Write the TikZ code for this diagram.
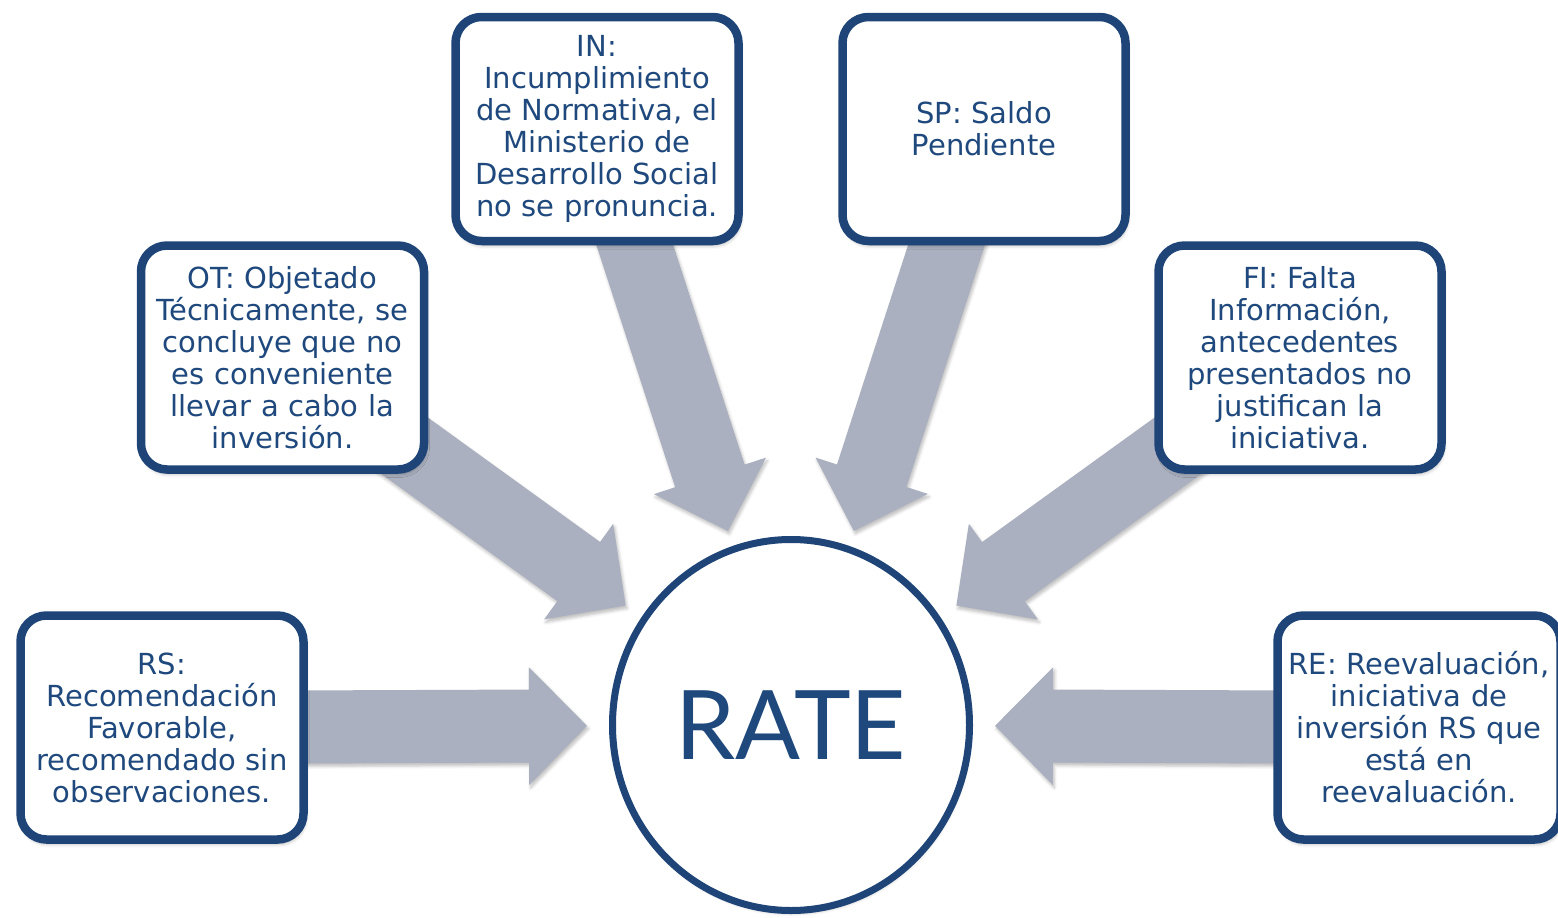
\documentclass[tikz,border=0pt]{standalone}
\usepackage{fontspec}
\setmainfont{DejaVu Sans}
\newfontfamily\ratefont{Lato}
\usetikzlibrary{calc,shapes.geometric,backgrounds,shadows.blur}
\definecolor{navy}{RGB}{31,69,120}
\definecolor{txtblue}{RGB}{31,73,125}
\definecolor{arrowgray}{RGB}{170,176,191}
\tikzset{
  infobox/.style={draw=navy, line width=8.5pt, fill=white, rounded corners=26pt,
    minimum width=283pt, minimum height=224pt, inner sep=0pt, text width=276pt,
    align=center, text=txtblue, font=\fontsize{29}{32}\selectfont,
    blur shadow={shadow xshift=1.5pt, shadow yshift=-4pt, shadow blur radius=4pt, shadow opacity=35}},
  ratenode/.style={ellipse, draw=navy, line width=7pt, fill=white,
    minimum width=357pt, minimum height=371pt, inner sep=0pt, text=txtblue,
    font=\ratefont\fontsize{96}{96}\selectfont,
    blur shadow={shadow xshift=1pt, shadow yshift=-3pt, shadow blur radius=3pt, shadow opacity=25}},
  bigarrow/.style={fill=arrowgray,
    blur shadow={shadow xshift=1.5pt, shadow yshift=-3pt, shadow blur radius=3pt, shadow opacity=25}}
}
\newcommand\blockarrow[2]{%
  \path ($(#2)!58pt!(#1)$) coordinate (bh);
  \fill[bigarrow] ($(#1)!36.5pt!90:(#2)$) -- ($(bh)!36.5pt!-90:(#1)$) -- ($(bh)!59pt!-90:(#1)$)
    -- (#2) -- ($(bh)!59pt!90:(#1)$) -- ($(bh)!36.5pt!90:(#1)$) -- ($(#1)!36.5pt!-90:(#2)$) -- cycle;
}
\begin{document}
\begin{tikzpicture}[x=1pt,y=-1pt]
\useasboundingbox (0,0) rectangle (1558,918);
\node[ratenode] (rate) at (791,725) {RATE};
\node[infobox] (rs) at (162,727.5) {RS:\\Recomendación\\Favorable,\\recomendado sin\\observaciones.};
\node[infobox] (ot) at (282.5,357.5) {OT: Objetado\\Técnicamente, se\\concluye que no\\es conveniente\\llevar a cabo la\\inversión.};
\node[infobox] (in) at (597,129) {IN:\\Incumplimiento\\de Normativa, el\\Ministerio de\\Desarrollo Social\\no se pronuncia.};
\node[infobox] (sp) at (984,129) {SP: Saldo\\Pendiente};
\node[infobox] (fi) at (1300,357.5) {FI: Falta\\Información,\\antecedentes\\presentados no\\justifican la\\iniciativa.};
\node[infobox] (re) at (1419,727.5) {RE: Reevaluación,\\iniciativa de\\inversión RS que\\está en\\reevaluación.};
\foreach \b in {rs,ot,in,sp,fi,re}{
  \coordinate (tip-\b) at ($(rate.center)!204pt!(\b.center)$);
}
\begin{scope}[on background layer]
\foreach \b in {rs,ot,in,sp,fi,re}{
  \blockarrow{\b.center}{tip-\b}
}
\end{scope}
\end{tikzpicture}
\end{document}
